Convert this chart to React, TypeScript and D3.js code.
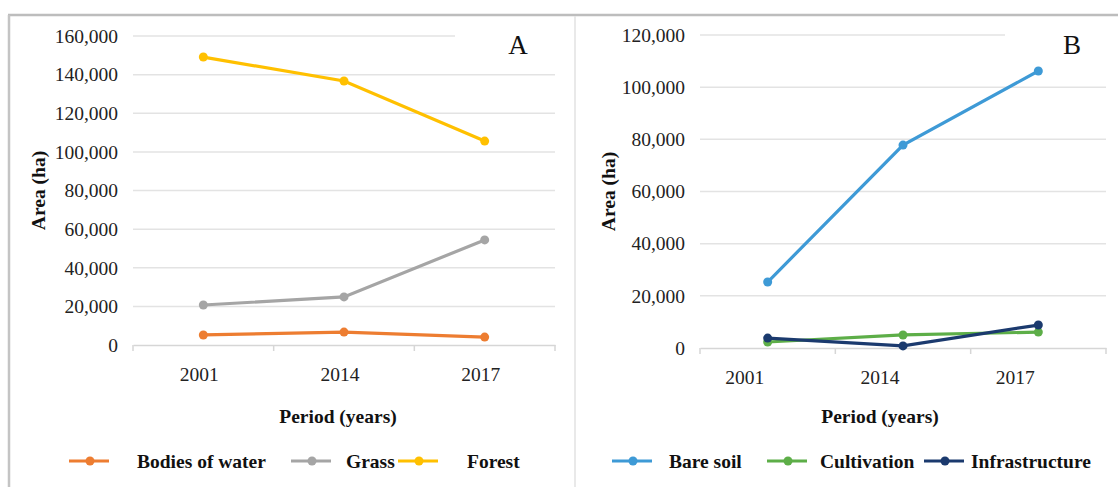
import React, { useEffect, useRef } from 'react';
import * as d3 from 'd3';

const years = ['2001', '2014', '2017'];

const ticksA = [0, 20000, 40000, 60000, 80000, 100000, 120000, 140000, 160000];
const ticksB = [0, 20000, 40000, 60000, 80000, 100000, 120000];

const bodiesOfWater = [5200, 6700, 4100];
const grass = [20700, 24900, 54400];
const forest = [149100, 136700, 105600];

const bareSoil = [25300, 77800, 106200];
const cultivation = [2300, 5000, 6100];
const infrastructure = [3800, 800, 8800];

interface Series {
  name: string,
  color: string,
  values: number[]
}

interface Panel {
  letter: string,
  max: number,
  ticks: number[],
  x0: number,
  x1: number,
  y0: number,
  y1: number,
  topGridEnd: number,
  labelShift: number,
  titleShift: number,
  yTitleX: number,
  letterX: number,
  series: Series[],
  legendX: number[],
  legendTextX: number[]
}

const panels: Panel[] = [
  {
    letter: 'A',
    max: 160000,
    ticks: ticksA,
    x0: 133,
    x1: 555,
    y0: 345,
    y1: 36,
    topGridEnd: 455,
    labelShift: -4,
    titleShift: -6,
    yTitleX: 38,
    letterX: 518,
    series: [
      { name: 'Bodies of water', color: '#ED7D31', values: bodiesOfWater },
      { name: 'Grass', color: '#A5A5A5', values: grass },
      { name: 'Forest', color: '#FFC000', values: forest },
    ],
    legendX: [69, 291, 398],
    legendTextX: [137, 346, 467],
  },
  {
    letter: 'B',
    max: 120000,
    ticks: ticksB,
    x0: 700,
    x1: 1106,
    y0: 348,
    y1: 35,
    topGridEnd: 1005,
    labelShift: -23,
    titleShift: -23,
    yTitleX: 608,
    letterX: 1072,
    series: [
      { name: 'Bare soil', color: '#3E9AD6', values: bareSoil },
      { name: 'Cultivation', color: '#5DAE48', values: cultivation },
      { name: 'Infrastructure', color: '#1B3A6E', values: infrastructure },
    ],
    legendX: [612, 767, 924],
    legendTextX: [669, 820, 971],
  },
];

const W = 1118;
const H = 487;
const FONT = '"Liberation Serif", "DejaVu Serif", serif';

export default function App() {
  const ref = useRef<SVGSVGElement>(null);

  useEffect(() => {
    const svg = d3.select(ref.current);
    svg.selectAll('*').remove();

    svg.append('rect').attr('width', W).attr('height', H).attr('fill', '#fff');

    // frame
    svg.append('line')
      .attr('x1', 8).attr('x2', W).attr('y1', 15).attr('y2', 15)
      .attr('stroke', '#bdbdbd').attr('stroke-width', 2.5);
    svg.append('line')
      .attr('x1', 9).attr('x2', 9).attr('y1', 15).attr('y2', H)
      .attr('stroke', '#c4c4c4').attr('stroke-width', 2.5);
    svg.append('line')
      .attr('x1', 575).attr('x2', 575).attr('y1', 16).attr('y2', H)
      .attr('stroke', '#e2e2e2').attr('stroke-width', 1.5);

    panels.forEach((p) => {
      const g = svg.append('g');

      const x = d3.scaleBand()
        .domain(years)
        .range([p.x0, p.x1]);

      const y = d3.scaleLinear()
        .domain([0, p.max])
        .range([p.y0, p.y1]);

      const cx = (i: number) => x(years[i])! + x.bandwidth() / 2;

      // gridlines
      g.selectAll('.grid')
        .data(p.ticks.filter((t) => t > 0))
        .enter()
        .append('line')
        .attr('x1', p.x0)
        .attr('x2', (d) => (d === p.max ? p.topGridEnd : p.x1))
        .attr('y1', (d) => y(d))
        .attr('y2', (d) => y(d))
        .attr('stroke', '#e3e3e3')
        .attr('stroke-width', 1.5);

      // y labels
      g.selectAll('.ylab')
        .data(p.ticks)
        .enter()
        .append('text')
        .attr('x', p.x0 - 15)
        .attr('y', (d) => y(d))
        .attr('dy', '0.35em')
        .attr('text-anchor', 'end')
        .style('font-family', FONT)
        .style('font-size', '19.5px')
        .attr('fill', '#222')
        .text((d) => d3.format(',')(d));

      // x axis
      const xAxis = g.append('g')
        .attr('transform', `translate(0, ${p.y0})`)
        .call(d3.axisBottom(x).tickSize(0).tickFormat(() => ''));
      xAxis.select('.domain').attr('stroke', '#d6d6d6').attr('stroke-width', 1.5);
      const bounds = [p.x0, ...years.map((yr) => x(yr)! + x.bandwidth())];
      g.selectAll('.xtick')
        .data(bounds)
        .enter()
        .append('line')
        .attr('x1', (d) => d).attr('x2', (d) => d)
        .attr('y1', p.y0).attr('y2', p.y0 + 6)
        .attr('stroke', '#d6d6d6').attr('stroke-width', 1.5);

      g.selectAll('.xlab')
        .data(years)
        .enter()
        .append('text')
        .attr('x', (d) => x(d)! + x.bandwidth() / 2 + p.labelShift)
        .attr('y', p.y0 + 36)
        .attr('text-anchor', 'middle')
        .style('font-family', FONT)
        .style('font-size', '19.5px')
        .attr('fill', '#222')
        .text((d) => d);

      // titles
      g.append('text')
        .attr('x', (p.x0 + p.x1) / 2 + p.titleShift)
        .attr('y', 423)
        .attr('text-anchor', 'middle')
        .style('font-family', FONT)
        .style('font-size', '19.5px')
        .style('font-weight', 'bold')
        .attr('fill', '#111')
        .text('Period (years)');

      g.append('text')
        .attr('transform', `translate(${p.yTitleX}, ${(p.y0 + p.y1) / 2}) rotate(-90)`)
        .attr('dy', '0.35em')
        .attr('text-anchor', 'middle')
        .style('font-family', FONT)
        .style('font-size', '19.5px')
        .style('font-weight', 'bold')
        .attr('fill', '#111')
        .text('Area (ha)');

      g.append('text')
        .attr('x', p.letterX)
        .attr('y', 54)
        .attr('text-anchor', 'middle')
        .style('font-family', FONT)
        .style('font-size', '27px')
        .attr('fill', '#111')
        .text(p.letter);

      // lines
      const line = d3.line<number>()
        .x((d, i) => cx(i))
        .y((d) => y(d));

      p.series.forEach((s) => {
        g.append('path')
          .datum(s.values)
          .attr('d', line)
          .attr('fill', 'none')
          .attr('stroke', s.color)
          .attr('stroke-width', 3.2);
        g.selectAll(null)
          .data(s.values)
          .enter()
          .append('circle')
          .attr('cx', (d, i) => cx(i))
          .attr('cy', (d) => y(d))
          .attr('r', 4.5)
          .attr('fill', s.color);
      });

      // legend
      p.series.forEach((s, i) => {
        const lx = p.legendX[i];
        g.append('line')
          .attr('x1', lx).attr('x2', lx + 40)
          .attr('y1', 461).attr('y2', 461)
          .attr('stroke', s.color).attr('stroke-width', 3.2);
        g.append('circle')
          .attr('cx', lx + 21).attr('cy', 461).attr('r', 4.5)
          .attr('fill', s.color);
        g.append('text')
          .attr('x', p.legendTextX[i])
          .attr('y', 461)
          .attr('dy', '0.35em')
          .style('font-family', FONT)
          .style('font-size', '19.5px')
          .style('font-weight', 'bold')
          .attr('fill', '#111')
          .text(s.name);
      });
    });
  }, []);

  return (
    <svg
      ref={ref}
      width={W}
      height={H}
      style={{ position: 'absolute', left: 0, top: 0 }}
    />
  );
}
